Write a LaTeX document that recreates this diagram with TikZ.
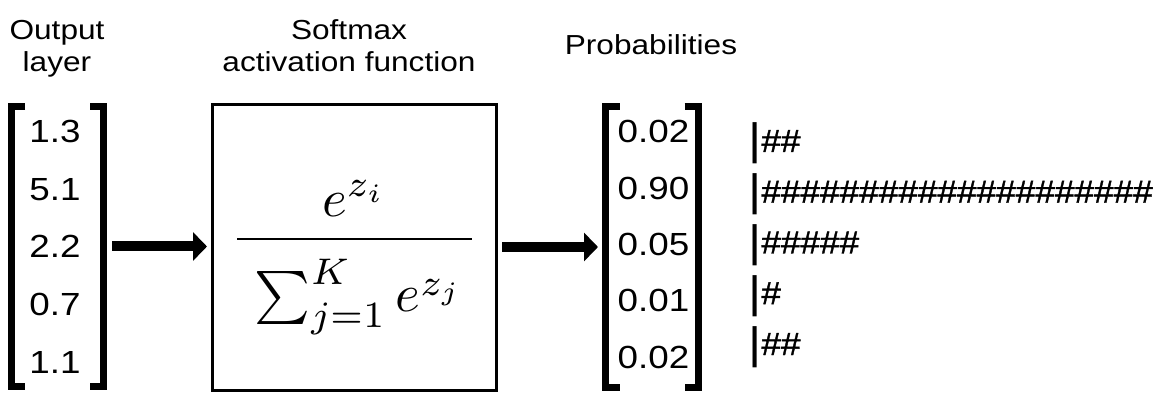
\documentclass[tikz,border=0pt]{standalone}
\usepackage{amsmath}
\usepackage{graphicx}
\usepackage{fontspec}
\setmainfont{Liberation Sans}[FakeStretch=1.15]
\newfontfamily\histfam{Liberation Sans}[FakeStretch=1.1, FakeBold=1.2]
\usetikzlibrary{arrows.meta}

\newcommand{\titlefont}{\fontsize{27.5}{32}\selectfont}
\newcommand{\numfont}{\fontsize{32}{36}\selectfont}
\newcommand{\histfont}{\histfam\fontsize{32}{34}\selectfont}
\newcommand{\histbar}{\raisebox{-3pt}{\normalfont\fontsize{44}{44}\selectfont|}}
\newcommand{\hashrow}[1]{\foreach \k in {1,...,#1}{\#}}

\begin{document}
\begin{tikzpicture}[x=1pt, y=-1pt,
  title/.style={font=\titlefont, align=center, anchor=base},
  numtxt/.style={font=\numfont, anchor=base, inner sep=0pt},
  histtxt/.style={font=\histfont, anchor=base west, inner sep=0pt},
  vecbox/.style={minimum width=#1, minimum height=280, inner sep=0pt, outer sep=0pt},
  brk/.style={line width=7pt, line join=miter},
  bigarrow/.style={line width=10pt, -{Triangle[length=14pt, width=28pt]}}]
  \useasboundingbox (0,0) rectangle (1168,406);
  % titles
  \node[title] (tout) at (57,72) {Output\\layer};
  \node[title] (tsmx) at (349,72) {Softmax\\activation function};
  \node[title] (tprob) at (651,55) {Probabilities};
  % output layer vector
  \node[vecbox=92] (outv) at (57.5,246.5) {};
  \draw[brk] ([xshift=13.5]outv.north west) -- (outv.north west) -- (outv.south west) -- ++(13.5,0);
  \draw[brk] ([xshift=-13.5]outv.north east) -- (outv.north east) -- (outv.south east) -- ++(-13.5,0);
  \foreach \v [count=\i] in {1.3,5.1,2.2,0.7,1.1}
    \node[numtxt] (o\i) at ({55},{143+57.5*(\i-1)}) {\v};
  % softmax box
  \node[draw, line width=3pt, minimum width=284, minimum height=285, outer sep=0pt] (smx) at (354,247.5) {};
  \node[anchor=base, inner sep=0pt] (frm) at (354.5,252)
    {\scalebox{5.3}[5.3]{$\displaystyle\frac{e^{z_i}}{\,\rule{0pt}{12.3pt}\sum_{j=1}^{K} e^{z_j}\,}$}};
  % probabilities vector
  \node[vecbox=93] (probv) at (652,247) {};
  \draw[brk] ([xshift=14]probv.north west) -- (probv.north west) -- (probv.south west) -- ++(14,0);
  \draw[brk] ([xshift=-14]probv.north east) -- (probv.north east) -- (probv.south east) -- ++(-14,0);
  \foreach \v [count=\i] in {0.02,0.90,0.05,0.01,0.02}
    \node[numtxt] (p\i) at ({653.5},{143+56.25*(\i-1)}) {\v};
  % arrows
  \draw[bigarrow, shorten <=8.5pt, shorten >=5pt] (outv.east) -- (outv.east -| smx.west);
  \draw[bigarrow, shorten <=6pt, shorten >=7.5pt] (smx.east |- probv.west) -- (probv.west);
  % histogram
  \foreach \n [count=\i] in {2,20,5,1,2}
    \node[histtxt] (h\i) at ({748},{152+50.75*(\i-1)}) {\histbar\hashrow{\n}};
\end{tikzpicture}
\end{document}
